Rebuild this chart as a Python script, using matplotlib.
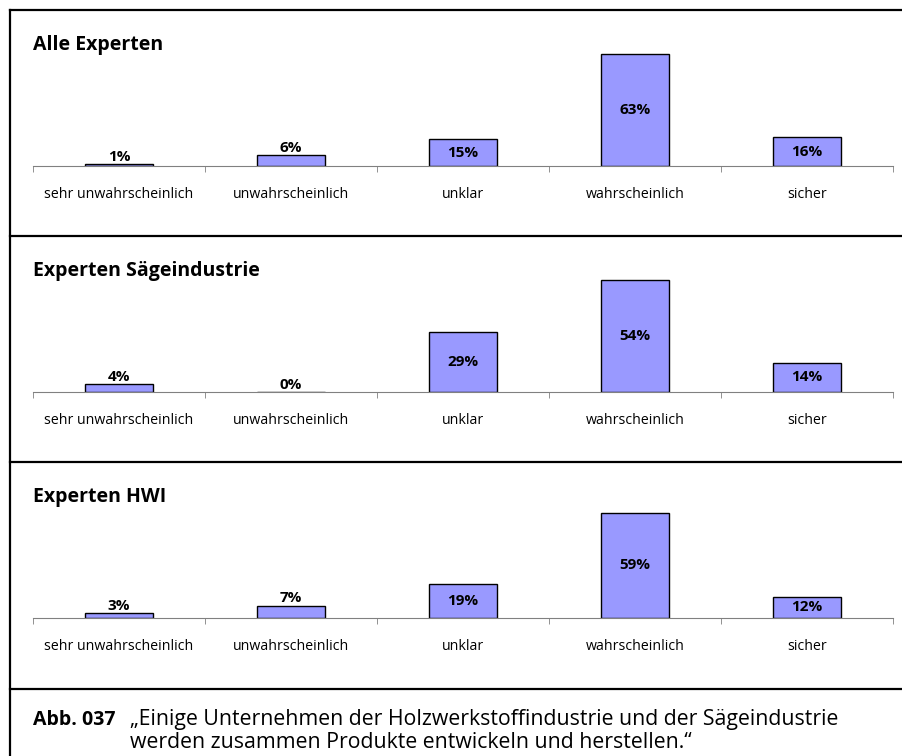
import matplotlib.pyplot as plt
from matplotlib.lines import Line2D

kategorien = ['sehr unwahrscheinlich', 'unwahrscheinlich', 'unklar', 'wahrscheinlich', 'sicher']
alle_experten = [1, 6, 15, 63, 16]
experten_saege = [4, 0, 29, 54, 14]
experten_hwi = [3, 7, 19, 59, 12]
titel = ['Alle Experten', 'Experten Sägeindustrie', 'Experten HWI']
ymax = [70, 60, 70]

plt.rcParams['font.family'] = ['Open Sans', 'DejaVu Sans']

W, H = 903, 756
fig = plt.figure(figsize=(W / 100, H / 100), dpi=100)

# Rahmen
def hline(y, x0=10, x1=W):
    fig.add_artist(Line2D([x0 / W, x1 / W], [1 - y / H, 1 - y / H], color='black', lw=1.6))

for y in [10, 236, 462, 689]:
    hline(y)
fig.add_artist(Line2D([10 / W, 10 / W], [1 - 10 / H, 0], color='black', lw=1.6))

daten = [alle_experten, experten_saege, experten_hwi]
baselines = [166, 392, 618]
titel_y = [45, 271, 497]

for werte, name, base, ty, ym in zip(daten, titel, baselines, titel_y, ymax):
    ax = fig.add_axes([33 / W, 1 - base / H, 860 / W, 125 / H])
    x = range(len(kategorien))
    ax.bar(x, werte, width=0.4, color='#9999ff', edgecolor='black', linewidth=1.0)
    ax.set_xlim(-0.5, 4.5)
    ax.set_ylim(0, ym)
    for s in ['top', 'right', 'left']:
        ax.spines[s].set_visible(False)
    ax.spines['bottom'].set_color('#808080')
    ax.set_yticks([])
    ax.set_xticks(list(x))
    ax.set_xticklabels(kategorien, fontsize=10.2)
    ax.tick_params(axis='x', which='major', length=0, pad=15)
    ax.set_xticks([i - 0.5 for i in range(len(kategorien) + 1)], minor=True)
    ax.tick_params(axis='x', which='minor', length=4, color='#808080', direction='out')
    ax.patch.set_alpha(0)
    for i, v in enumerate(werte):
        if v >= 10:
            ax.text(i, v / 2, f'{v}%', ha='center', va='center', fontsize=11, fontweight='bold')
        else:
            ax.text(i, v, f'{v}%', ha='center', va='bottom', fontsize=11, fontweight='bold')
    fig.text(33 / W, 1 - ty / H, name, fontsize=14, fontweight='bold', va='center', ha='left')

fig.text(33 / W, 1 - 720 / H, 'Abb. 037', fontsize=14, fontweight='bold', va='center')
fig.text(130 / W, 1 - 720 / H, '„Einige Unternehmen der Holzwerkstoffindustrie und der Sägeindustrie',
         fontsize=15.3, va='center')
fig.text(130 / W, 1 - 742 / H, 'werden zusammen Produkte entwickeln und herstellen.“',
         fontsize=15.3, va='center')

fig.savefig('out.png', dpi=100)
